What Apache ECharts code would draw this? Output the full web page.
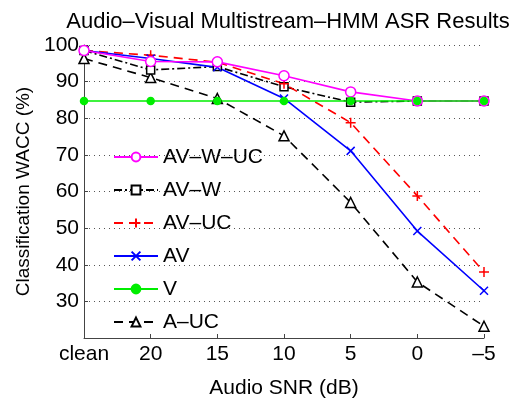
<!DOCTYPE html>
<html>
<head>
<meta charset="utf-8">
<script src="https://cdn.jsdelivr.net/npm/echarts@6/dist/echarts.min.js"></script>
<style>
  html, body { margin: 0; padding: 0; background: #fff; }
  #chart { width: 511px; height: 404px; }
</style>
</head>
<body>
<div id="chart"></div>
<script>
// SNR conditions along the x axis
const snrLabels = ['clean', '20', '15', '10', '5', '0', '–5']

// WACC (%) per system
const avwuc = [98.5, 95.5, 95.4, 91.6, 87.2, 84.7, 84.7]
const avw   = [98.5, 93.2, 94.1, 88.6, 84.4, 84.7, 84.7]
const avuc  = [98.5, 97.2, 95.3, 89.4, 78.8, 58.8, 38.0]
const av    = [98.5, 96.3, 93.9, 85.4, 71.1, 49.2, 32.9]
const v     = [84.7, 84.7, 84.7, 84.7, 84.7, 84.7, 84.7]
const auc   = [96.3, 91.1, 85.4, 75.2, 57.0, 35.3, 23.2]

const legendOrder = ['AV–W–UC', 'AV–W', 'AV–UC', 'AV', 'V', 'A–UC']

const font = '"Liberation Sans", Arial, sans-serif'
const plusPath = 'path://M5,0 L5,10 M0,5 L10,5'
const crossPath = 'path://M0,0 L10,10 M10,0 L0,10'

function mk(name, data, color, type, symbol, size, fill) {
  return {
    name: name,
    type: 'line',
    data: data,
    symbol: symbol,
    symbolSize: size,
    showAllSymbol: true,
    lineStyle: { color: color, width: 1.6, type: type },
    itemStyle: {
      color: fill,
      borderColor: color,
      borderWidth: 1.5
    },
    emphasis: { disabled: true },
    animation: false
  }
}

const chart = echarts.init(document.getElementById('chart'))

chart.setOption({
  backgroundColor: '#fff',
  textStyle: { fontFamily: font },
  title: {
    text: 'Audio–Visual Multistream–HMM ASR Results',
    left: 283,
    textAlign: 'center',
    top: 6,
    textStyle: { fontSize: 22, fontWeight: 'normal', color: '#000', fontFamily: font }
  },
  legend: {
    data: legendOrder,
    orient: 'vertical',
    left: 109,
    top: 144,
    itemWidth: 44,
    itemHeight: 11,
    itemGap: 11,
    padding: [2, 4],
    textStyle: { fontSize: 21, color: '#000', fontFamily: font, lineHeight: 22 }
  },
  grid: { left: 84, right: 27, top: 45, bottom: 59 },
  xAxis: {
    type: 'category',
    data: snrLabels,
    boundaryGap: false,
    name: 'Audio SNR (dB)',
    nameLocation: 'middle',
    nameGap: 40,
    nameTextStyle: { fontSize: 21, color: '#000' },
    axisLine: { lineStyle: { color: '#444', width: 1 } },
    axisTick: { inside: true, length: 4, lineStyle: { color: '#444' } },
    axisLabel: { fontSize: 21, color: '#000', margin: 6 },
    splitLine: { show: false }
  },
  yAxis: {
    type: 'value',
    min: 20,
    max: 100,
    interval: 10,
    name: 'Classification WACC (%)',
    nameLocation: 'middle',
    nameGap: 45,
    nameTextStyle: { fontSize: 19, color: '#000' },
    axisLine: { show: true, lineStyle: { color: '#444', width: 1 } },
    axisTick: { show: true, inside: true, length: 4, lineStyle: { color: '#444' } },
    axisLabel: {
      fontSize: 21,
      color: '#000',
      margin: 5,
      formatter: (val) => (val === 20 ? '' : String(val))
    },
    splitLine: { show: true, lineStyle: { color: '#555', type: [1, 4], width: 1 } }
  },
  series: [
    mk('A–UC', auc, '#000', [9, 6], 'triangle', 10, '#fff'),
    mk('AV–W', avw, '#000', [8, 3, 2, 3], 'rect', 8, '#fff'),
    mk('AV–UC', avuc, '#ff0000', [9, 6], plusPath, 10, 'none'),
    mk('AV', av, '#0000ff', 'solid', crossPath, 8, 'none'),
    mk('AV–W–UC', avwuc, '#ff00ff', 'solid', 'circle', 10, '#fff'),
    mk('V', v, '#00ee00', 'solid', 'circle', 7, '#00ee00')
  ]
})
</script>
</body>
</html>
